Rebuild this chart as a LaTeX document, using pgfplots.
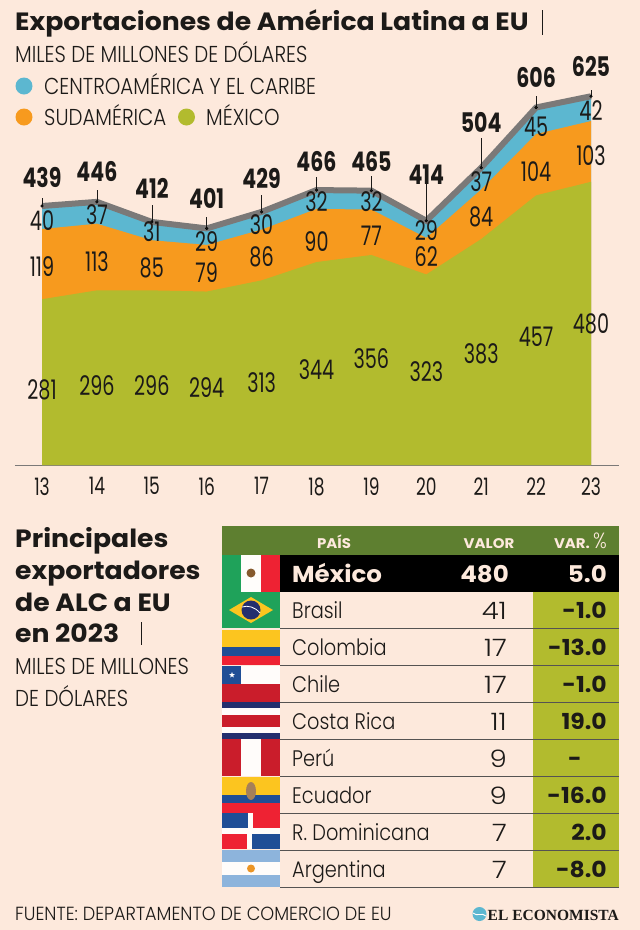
\documentclass[border=0pt]{standalone}
\usepackage{fontspec}
\usepackage{pgfplots}
\usepackage{pgfplotstable}
\usetikzlibrary{shapes.geometric}
\pgfplotsset{compat=1.18}
\setmainfont{Poppins}
\newfontfamily\lightf{Poppins Light}[FakeStretch=0.86]
\newfontfamily\footf{Poppins Light}[FakeStretch=0.93]
\newfontfamily\valf{Poppins Light}[FakeStretch=1.15]
\newfontfamily\headf{Poppins Bold}[FakeStretch=1.067]
\newfontfamily\numf{Poppins}[FakeStretch=0.71]
\newfontfamily\numbf{Poppins Bold}[FakeStretch=0.76]
\newfontfamily\serifb{Liberation Serif Bold}
\newcommand{\fs}[1]{\fontsize{#1}{#1}\selectfont}

\definecolor{bg}{HTML}{FDE9DC}
\definecolor{cblue}{HTML}{5CB7D0}
\definecolor{corange}{HTML}{F79A1E}
\definecolor{cgreen}{HTML}{B2BB2E}
\definecolor{cgray}{HTML}{7B7978}
\definecolor{hgreen}{HTML}{5E7F30}
\definecolor{ink}{HTML}{1C1A18}
\definecolor{fred}{HTML}{EE2233}
\definecolor{fgreen}{HTML}{1FA25A}
\definecolor{fblue}{HTML}{1F4E96}
\definecolor{fnavy}{HTML}{232F6E}
\definecolor{fyel}{HTML}{FCC51F}
\definecolor{flight}{HTML}{8DB4DC}

% year, series, total, length of the leader line
\pgfplotstableread{
x  mex sud cen tot lead
13 281 119 40  439 14
14 296 113 37  446 20
15 296 85  31  412 29
16 294 79  29  401 19
17 313 86  30  429 29
18 344 90  32  466 22
19 356 77  32  465 24
20 323 62  29  414 64
21 383 84  37  504 51
22 457 104 45  606 20
23 480 103 42  625 10
}\datos

% label heights, in axis units
\pgfplotstableread{
x  ymex lmex ysud lsud ycen lcen ytot ltot
13 127  281  337  119  415  40   488  439
14 134  296  344  113  424  37   497  446
15 134  296  334  85   395  31   469  412
16 131  294  327  79   378  29   451  401
17 139  313  353  86   407  30   486  429
18 161  344  378  90   446  32   515  466
19 181  356  388  77   446  32   515  465
20 159  323  353  62   397  29   492  414
21 188  383  420  84   480  37   580  504
22 217  457  497  104  573  45   656  606
23 239  480  525  103  600  42   676  625
}\etiquetas

\pgfplotsset{
  lbl/.style={draw=none, mark=none,
    nodes near coords, point meta=explicit symbolic,
    nodes near coords style={anchor=center, inner sep=0pt, text=ink, font=#1}},
}

\begin{document}
\begin{tikzpicture}[x=1pt,y=1pt]
\useasboundingbox (0,0) rectangle (640,-930);
\fill[bg] (0,0) rectangle (640,-930);

\begin{axis}[
  at={(15pt,-465pt)}, anchor=south west,
  scale only axis, width=604pt, height=413pt,
  xmin=12.508, xmax=23.51, ymin=0, ymax=700,
  axis y line=none, axis x line=bottom,
  axis line style={cgray,line width=.8pt,-},
  xtick={13,...,23}, major tick length=0pt,
  xticklabel style={font=\numf\fs{24},text=ink,yshift=-9pt},
  /pgf/number format/assume math mode=true,
  clip=false,
]
% areas are painted from the largest sum down
\addplot[draw=none,fill=cblue] table[x=x,y expr=\thisrow{mex}+\thisrow{sud}+\thisrow{cen}] {\datos} \closedcycle;
\addplot[draw=none,fill=corange] table[x=x,y expr=\thisrow{mex}+\thisrow{sud}] {\datos} \closedcycle;
\addplot[draw=none,fill=cgreen] table[x=x,y=mex] {\datos} \closedcycle;
\addplot[draw=cgray,line width=6pt,line join=miter,mark=none] table[x=x,y=tot] {\datos};
\addplot[draw=none,mark=*,mark size=1.4pt,mark options={fill=ink,draw=none},
  error bars/.cd,y dir=plus,y explicit,error mark=none,error bar style={ink,line width=.5pt}]
  table[x=x,y=tot,y error=lead] {\datos};
\addplot[lbl={\numf\fs{27}}] table[x=x,y=ymex,meta=lmex] {\etiquetas};
\addplot[lbl={\numf\fs{27}}] table[x=x,y=ysud,meta=lsud] {\etiquetas};
\addplot[lbl={\numf\fs{27}}] table[x=x,y=ycen,meta=lcen] {\etiquetas};
\addplot[lbl={\numbf\fs{27}}] table[x=x,y=ytot,meta=ltot] {\etiquetas};
\end{axis}

\begin{scope}[y=-1pt]
% titles
\node[anchor=base west,inner sep=0,text=ink] at (15,30) {\headf\fs{25}Exportaciones de América Latina a EU};
\draw[ink,line width=.5pt] (542,10) -- (542,35);
\node[anchor=base west,inner sep=0,text=ink] at (15,62) {\lightf\fs{23}MILES DE MILLONES DE DÓLARES};

% legend
\fill[cblue] (24,86) circle (8.5);
\node[anchor=base west,inner sep=0,text=ink] at (44,94) {\lightf\fs{23}CENTROAMÉRICA Y EL CARIBE};
\fill[corange] (24,117) circle (8.5);
\node[anchor=base west,inner sep=0,text=ink] at (44,125) {\lightf\fs{23}SUDAMÉRICA};
\fill[cgreen] (186.5,117) circle (8.5);
\node[anchor=base west,inner sep=0,text=ink] at (206,125) {\lightf\fs{23}MÉXICO};

% left heading of the table
\foreach \t/\y in {Principales/547,exportadores/579,de ALC a EU/611,en 2023/642}
  \node[anchor=base west,inner sep=0,text=ink] at (15,\y) {\headf\fs{25}\t};
\draw[ink,line width=.5pt] (141,622) -- (141,645);
\node[anchor=base west,inner sep=0,text=ink] at (15,674) {\lightf\fs{23}MILES DE MILLONES};
\node[anchor=base west,inner sep=0,text=ink] at (15,706) {\lightf\fs{23}DE DÓLARES};

% table bands
\fill[hgreen] (222,526) rectangle (619,555);
\fill[black] (280,555) rectangle (619,592);
\fill[cgreen] (533,592) rectangle (619,887);
\foreach \y in {628,665,702,739,776,813,850,887}
  \draw[ink!75,line width=.7pt] (280,\y) -- (619,\y);

% flags
\fill[fgreen] (222,555) rectangle (241,592);
\fill[white!90!bg] (241,555) rectangle (261,592);
\fill[fred] (261,555) rectangle (280,592);
\fill[brown!70!black] (251,573) circle (4.5);
\fill[fgreen] (222,592) rectangle (280,628);
\fill[fyel] (229,610) -- (251,597) -- (273,610) -- (251,623) -- cycle;
\fill[fnavy] (251,610) circle (9.5);
\draw[white,line width=.8pt] (242,607) .. controls (248,605) and (255,607) .. (260,613);
\fill[fyel] (222,630) rectangle (280,647);
\fill[fblue] (222,647) rectangle (280,656);
\fill[fred] (222,656) rectangle (280,665);
\fill[white!85!bg] (222,666) rectangle (280,684);
\fill[fblue] (222,666) rectangle (241,684);
\node[star,star points=5,star point ratio=2.4,fill=white,inner sep=0,minimum size=6pt] at (232,675) {};
\fill[fred!85!black] (222,684) rectangle (280,702);
\fill[fnavy] (222,702) rectangle (280,708);
\fill[white!85!bg] (222,708) rectangle (280,715);
\fill[fred!85!black] (222,715) rectangle (280,727);
\fill[white!85!bg] (222,727) rectangle (280,733);
\fill[fnavy] (222,733) rectangle (280,739);
\fill[fred!85!black] (222,739) rectangle (241,776);
\fill[white!85!bg] (241,739) rectangle (261,776);
\fill[fred!85!black] (261,739) rectangle (280,776);
\fill[fyel] (222,777) rectangle (280,795);
\fill[fblue] (222,795) rectangle (280,803);
\fill[fred] (222,803) rectangle (280,813);
\fill[brown!60!gray] (251,791) ellipse (5 and 9);
\fill[white!85!bg] (222,813) rectangle (280,849);
\fill[fblue] (222,813) rectangle (248,828);
\fill[fred] (253,813) rectangle (280,828);
\fill[fred] (222,834) rectangle (247,849);
\fill[fblue] (252,834) rectangle (280,849);
\fill[flight] (222,850) rectangle (280,862);
\fill[white!85!bg] (222,862) rectangle (280,875);
\fill[flight] (222,875) rectangle (280,887);
\fill[corange!80!brown] (251,868.5) circle (4);

% table text
\node[text=bg,inner sep=0,anchor=base] at (334,548) {\headf\fs{14}PAÍS};
\node[text=bg,inner sep=0,anchor=base] at (489,548) {\headf\fs{14}VALOR};
\node[text=bg,inner sep=0,anchor=base east] at (607,548) {\headf\fs{14}VAR. \lightf\fs{22}\%};
\node[text=bg,inner sep=0,anchor=base west] at (292,582) {\headf\fs{23}México};
\node[text=bg,inner sep=0,anchor=base east] at (509,582) {\headf\fs{23}480};
\node[text=bg,inner sep=0,anchor=base east] at (607,582) {\headf\fs{23}5.0};
\foreach \n/\v/\p/\y in {Brasil/41/-1.0/618,Colombia/17/-13.0/655,Chile/17/-1.0/692,Costa Rica/11/19.0/729,Perú/9//766,Ecuador/9/-16.0/803,R. Dominicana/7/2.0/840,Argentina/7/-8.0/877}{
  \node[text=ink,inner sep=0,anchor=base west] at (292,\y) {\lightf\fs{22.5}\n};
  \node[text=ink,inner sep=0,anchor=base east] at (507,\y+1) {\valf\fs{24}\v};
  \node[text=ink,inner sep=0,anchor=base east] at (607,\y) {\headf\fs{22}\p};
}
\node[text=ink,inner sep=0,anchor=base] at (575,766) {\headf\fs{22}-};

% footer
\node[text=ink,inner sep=0,anchor=base west] at (15,920) {\footf\fs{19}FUENTE: DEPARTAMENTO DE COMERCIO DE EU};
\fill[cblue] (479.5,914) circle (7);
\draw[white,line width=.9pt] (473,913) .. controls (477,917) and (482,912) .. (486,916);
\node[text=ink,inner sep=0,anchor=base east] at (619,920) {\serifb\fs{15.5}EL ECONOMISTA};
\end{scope}
\end{tikzpicture}
\end{document}
